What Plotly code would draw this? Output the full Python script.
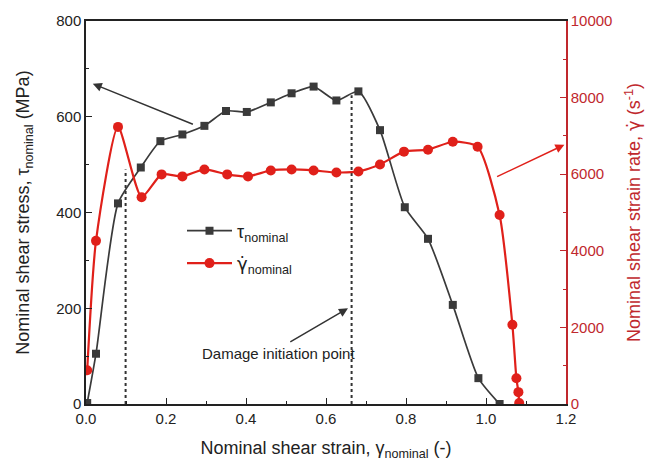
import plotly.graph_objects as go

# Shear stress (left axis)
tau_x = [0.003, 0.025, 0.08, 0.137, 0.186, 0.241, 0.296, 0.35, 0.402, 0.462, 0.514, 0.569,
         0.626, 0.681, 0.735, 0.797, 0.855, 0.917, 0.981, 1.034]
tau_y = [2, 105, 419, 494, 549, 563, 581, 612, 610, 630, 649, 663,
         634, 653, 572, 411, 345, 207, 54, 0]

# Shear strain rate (right axis)
rate_x = [0.003, 0.025, 0.08, 0.139, 0.189, 0.241, 0.296, 0.353, 0.405, 0.462, 0.514, 0.569,
          0.626, 0.681, 0.735, 0.795, 0.855, 0.917, 0.979, 1.034, 1.066, 1.076, 1.081, 1.083]
rate_y = [880, 4260, 7235, 5400, 5995, 5943, 6124, 5995, 5943, 6098, 6124, 6098,
          6046, 6072, 6253, 6589, 6640, 6847, 6718, 4935, 2067, 672, 310, 26]

# Dotted marker lines (strain, top stress)
vline_x = [0.099, 0.664]
vline_top = [490, 645]

BLACK = "#3a3a3a"
RED = "#e0201a"
AXRED = "#c0282d"
FONT = "Liberation Sans, Arial, sans-serif"
GDOT = '<span style="font-family:DejaVu Sans">γ̇</span>'

fig = go.Figure()

for vx, vt in zip(vline_x, vline_top):
    fig.add_trace(go.Scatter(x=[vx, vx], y=[0, vt], mode="lines",
                             line=dict(color="#333", width=2, dash="dot"),
                             showlegend=False, hoverinfo="skip"))

fig.add_trace(go.Scatter(x=tau_x, y=tau_y, mode="lines+markers",
                         name="τ<sub>nominal</sub>", legendgroup="a",
                         line=dict(color=BLACK, width=1.7, shape="spline", smoothing=0.6),
                         marker=dict(symbol="square", size=8, color=BLACK)))

fig.add_trace(go.Scatter(x=rate_x, y=rate_y, mode="lines+markers", yaxis="y2",
                         name=GDOT + "<sub>nominal</sub>", legendgroup="b",
                         line=dict(color=RED, width=2.2, shape="spline", smoothing=0.6),
                         marker=dict(symbol="circle", size=10, color=RED)))

fig.update_layout(
    width=653, height=470,
    margin=dict(l=86, r=84, t=17, b=66),
    paper_bgcolor="white", plot_bgcolor="white",
    font=dict(family=FONT, size=15, color="#222"),
    showlegend=True,
    legend=dict(x=0.2, y=0.5, xanchor="left", yanchor="top",
                bgcolor="rgba(0,0,0,0)", font=dict(size=18, color="#222"),
                itemwidth=45, tracegroupgap=6),
    xaxis=dict(range=[0, 1.2], dtick=0.2, tickformat=".1f",
               showline=True, linecolor="#222", linewidth=1.5, mirror=True,
               ticks="inside", ticklen=6, tickcolor="#222", showgrid=False, zeroline=False,
               tickfont=dict(size=15),
               minor=dict(dtick=0.1, ticks="inside", ticklen=3, tickcolor="#222"),
               title=dict(text="Nominal shear strain, γ<sub>nominal</sub> (-)",
                          font=dict(size=18), standoff=16)),
    yaxis=dict(range=[0, 800], dtick=200,
               showline=True, linecolor="#222", linewidth=1.5,
               ticks="inside", ticklen=6, tickcolor="#222", showgrid=False, zeroline=False,
               tickfont=dict(size=15),
               minor=dict(dtick=100, ticks="inside", ticklen=3, tickcolor="#222"),
               title=dict(text="Nominal shear stress, τ<sub>nominal</sub> (MPa)",
                          font=dict(size=18), standoff=22)),
    yaxis2=dict(range=[0, 10000], dtick=2000, tickformat="d", overlaying="y", side="right",
                showline=True, linecolor=AXRED, linewidth=1.5,
                ticks="inside", ticklen=6, tickcolor=AXRED, showgrid=False, zeroline=False,
                tickfont=dict(color=AXRED, size=15),
                minor=dict(dtick=1000, ticks="inside", ticklen=3, tickcolor=AXRED),
                title=dict(text="Nominal shear strain rate, " + GDOT + " (s<sup>-1</sup>)",
                           font=dict(size=18, color=AXRED), standoff=16)),
)

fig.add_annotation(x=0.017, y=669, ax=0.271, ay=583, xref="x", yref="y", axref="x", ayref="y",
                   showarrow=True, arrowhead=2, arrowsize=1.2, arrowwidth=1.5, arrowcolor="#333", text="")
fig.add_annotation(x=1.196, y=6770, ax=1.024, ay=5917, xref="x", yref="y2", axref="x", ayref="y2",
                   showarrow=True, arrowhead=2, arrowsize=1.2, arrowwidth=1.5, arrowcolor=RED, text="")
fig.add_annotation(x=0.655, y=200, ax=0.507, ay=128, xref="x", yref="y", axref="x", ayref="y",
                   showarrow=True, arrowhead=2, arrowsize=1.2, arrowwidth=1.5, arrowcolor="#333", text="")
fig.add_annotation(x=0.482, y=105, xref="x", yref="y", text="Damage initiation point",
                   showarrow=False, font=dict(size=15, color="#222"))

fig.write_html("out.html")
